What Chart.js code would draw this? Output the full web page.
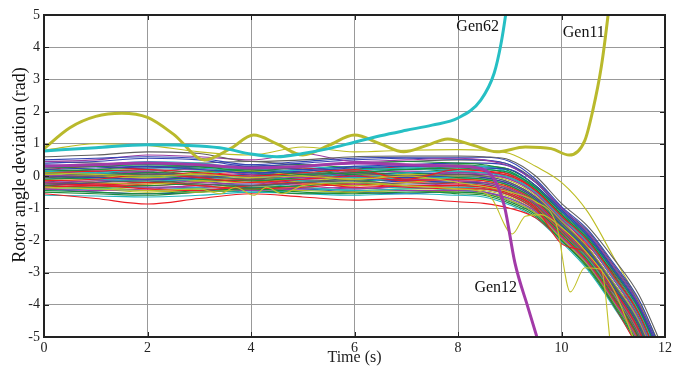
<!DOCTYPE html>
<html>
<head>
<meta charset="utf-8">
<script src="https://cdn.jsdelivr.net/npm/chart.js@4"></script>
<style>
  html, body { margin: 0; padding: 0; background: #fff; }
  #wrap { width: 675px; height: 367px; }
</style>
</head>
<body>
<div id="wrap"><canvas id="chart"></canvas></div>
<script>
// time samples shared by the bundle of generators
const T = [0, 1, 2, 3, 4, 5, 6, 7, 8, 8.5, 9, 9.5, 10, 10.5, 11, 11.5, 12];

const palette = { B: '#3343b3', G: '#1c8c3c', R: '#ec1c24', C: '#22b5bd', M: '#9c3ba3', Y: '#bcbc22', K: '#5f5f5f' };
// colour letter of each bundle line, in order
const bundleColors = 'KBBGRCMYKBGRCMYKBGRCMYGBGRCMYGRCMYKBGRCMRG' + 'BGRCMYKBGRCMYKBG';

// rotor angle of each generator (rad), read at T
const bundle = [
  [0.60, 0.65, 0.75, 0.70, 0.45, 0.50, 0.60, 0.62, 0.62, 0.60, 0.50, 0.00, -0.85, -1.55, -2.55, -3.70, -5.5],
  [0.50, 0.55, 0.60, 0.55, 0.35, 0.45, 0.55, 0.58, 0.58, 0.58, 0.45, -0.10, -0.95, -1.65, -2.70, -3.85, -5.7],
  [0.20, 0.25, 0.30, 0.20, 0.10, 0.15, 0.25, 0.30, 0.30, 0.25, 0.20, -0.30, -1.10, -1.85, -2.90, -4.05, -5.9],
  [0.10, 0.05, 0.10, 0.15, 0.20, 0.05, 0.10, 0.20, 0.25, 0.20, 0.10, -0.35, -1.15, -1.90, -2.95, -4.15, -6.0],
  [0.10, 0.15, 0.20, 0.10, 0.00, 0.10, 0.20, -0.10, 0.20, 0.15, 0.00, -0.45, -1.25, -2.00, -3.10, -4.30, -6.2],
  [0.30, 0.35, 0.45, 0.40, 0.25, 0.30, 0.20, 0.25, 0.30, 0.30, 0.10, -0.35, -1.10, -1.85, -2.95, -4.20, -6.1],
  [0.45, 0.50, 0.65, 0.60, 0.50, 0.70, 0.45, 0.50, 0.55, 0.50, 0.30, -0.20, -1.00, -1.75, -2.80, -4.00, -5.9],
  [0.80, 1.00, 0.95, 0.75, 0.65, 0.90, 0.75, 0.80, 0.82, 0.80, 0.70, 0.30, -0.20, -1.10, -2.50, -3.90, -5.6],
  [-0.05, 0.00, 0.05, 0.00, -0.10, 0.05, 0.10, 0.00, 0.05, 0.00, -0.20, -0.65, -1.45, -2.25, -3.35, -4.60, -6.6],
  [0.40, 0.45, 0.55, 0.50, 0.30, 0.40, 0.50, 0.55, 0.52, 0.50, 0.35, -0.20, -1.05, -1.80, -2.90, -4.10, -6.0],
  [0.25, 0.30, 0.35, 0.30, 0.15, 0.30, 0.40, 0.45, 0.40, 0.35, 0.15, -0.40, -1.20, -1.95, -3.05, -4.30, -6.2],
  [-0.15, -0.10, 0.05, -0.05, -0.20, -0.10, 0.00, -0.15, -0.10, -0.15, -0.35, -0.80, -1.60, -2.40, -3.50, -4.80, -6.9],
  [0.15, 0.10, 0.00, 0.05, 0.20, 0.15, -0.05, 0.10, 0.15, 0.10, -0.05, -0.50, -1.30, -2.05, -3.15, -4.35, -6.3],
  [0.00, 0.05, 0.15, 0.20, 0.05, -0.05, 0.10, 0.15, 0.10, 0.05, -0.10, -0.55, -1.35, -2.10, -3.20, -4.45, -6.4],
  [0.05, 0.00, -0.05, 0.10, 0.15, 0.00, -0.10, 0.05, 0.00, 0.00, -0.15, -0.60, -1.40, -2.20, -3.30, -4.50, -6.5],
  [-0.25, -0.20, -0.15, -0.25, -0.30, -0.20, -0.15, -0.25, -0.20, -0.25, -0.45, -0.90, -1.70, -2.50, -3.60, -4.95, -7.1],
  [0.00, -0.05, -0.10, -0.05, 0.05, 0.10, 0.00, -0.05, 0.00, -0.05, -0.25, -0.70, -1.50, -2.30, -3.40, -4.65, -6.7],
  [-0.10, -0.05, 0.00, -0.10, -0.15, -0.05, 0.05, 0.10, -0.05, -0.10, -0.30, -0.75, -1.55, -2.35, -3.45, -4.70, -6.8],
  [-0.35, -0.30, -0.40, -0.45, -0.30, -0.20, -0.35, -0.30, -0.30, -0.35, -0.55, -1.00, -2.10, -2.40, -3.60, -4.10, -7.0],
  [-0.05, -0.10, -0.15, -0.10, 0.00, -0.15, -0.20, -0.05, -0.05, -0.10, -0.30, -0.80, -1.55, -2.30, -3.30, -4.55, -6.5],
  [-0.20, -0.15, -0.10, -0.20, -0.25, -0.10, -0.05, -0.10, -0.15, -0.20, -0.40, -0.85, -1.65, -2.45, -3.55, -4.85, -7.0],
  [-0.10, -0.20, -0.25, -0.15, -0.05, -0.20, -0.30, -0.20, -0.10, -0.15, -0.40, -0.90, -1.70, -2.50, -3.60, -4.90, -7.0],
  [-0.45, -0.50, -0.55, -0.45, -0.40, -0.50, -0.55, -0.50, -0.50, -0.55, -0.80, -1.20, -2.00, -2.80, -3.95, -5.30, -7.4],
  [0.35, 0.30, 0.25, 0.30, 0.35, 0.20, 0.30, 0.35, 0.40, 0.40, 0.30, -0.20, -1.00, -1.75, -2.80, -3.95, -5.8],
  [-0.30, -0.35, -0.30, -0.25, -0.35, -0.30, -0.20, -0.30, -0.30, -0.35, -0.55, -1.00, -1.80, -2.60, -3.75, -5.05, -7.2],
  [-0.30, -0.25, -0.20, -0.30, -0.40, -0.35, -0.25, -0.35, -0.40, -0.40, -0.60, -1.05, -1.85, -2.65, -3.80, -5.10, -7.2],
  [-0.35, -0.40, -0.45, -0.35, -0.25, -0.35, -0.45, -0.40, -0.35, -0.40, -0.60, -1.05, -1.80, -2.55, -3.65, -4.95, -7.0],
  [-0.40, -0.45, -0.40, -0.35, -0.45, -0.40, -0.35, -0.45, -0.45, -0.50, -0.70, -1.10, -1.90, -2.70, -3.85, -5.20, -7.3],
  [-0.40, -0.35, -0.45, -0.50, -0.40, -0.45, -0.50, -0.45, -0.50, -0.55, -0.75, -1.15, -1.95, -2.75, -3.90, -5.25, -7.4],
  [0.30, 0.20, 0.15, 0.25, 0.30, 0.35, 0.25, 0.20, 0.30, 0.30, 0.20, -0.30, -1.05, -1.80, -2.85, -4.00, -5.85],
  [0.20, 0.30, 0.20, 0.05, 0.15, 0.25, 0.15, 0.30, 0.20, 0.15, 0.05, -0.45, -1.30, -2.15, -3.00, -4.25, -6.2],
  [0.05, 0.10, 0.20, 0.25, 0.10, 0.20, 0.30, 0.25, 0.20, 0.20, 0.10, -0.40, -1.20, -1.95, -3.00, -4.20, -6.1],
  [0.10, 0.00, -0.10, 0.00, 0.10, 0.20, 0.10, 0.00, 0.10, 0.10, -0.05, -0.50, -1.30, -2.05, -3.10, -4.35, -6.3],
  [-0.15, -0.10, -0.05, -0.15, -0.20, -0.05, 0.05, -0.05, -0.10, -0.10, -0.30, -0.75, -1.50, -2.30, -3.40, -4.70, -6.7],
  [-0.05, 0.05, 0.10, 0.05, -0.05, -0.15, -0.10, 0.00, 0.00, -0.05, -0.25, -0.70, -1.45, -2.25, -3.35, -4.60, -6.6],
  [-0.30, -0.20, -0.10, -0.15, -0.30, -0.20, -0.10, -0.15, -0.20, -0.20, -0.40, -0.85, -1.60, -2.40, -3.50, -4.80, -6.9],
  [-0.50, -0.55, -0.60, -0.50, -0.45, -0.55, -0.50, -0.45, -0.55, -0.60, -0.85, -1.25, -2.00, -2.85, -4.00, -5.35, -7.5],
  [-0.20, -0.25, -0.30, -0.20, -0.10, -0.25, -0.30, -0.20, -0.25, -0.30, -0.50, -0.95, -1.75, -2.55, -3.70, -5.00, -7.1],
  [0.25, 0.30, 0.35, 0.30, 0.20, 0.25, 0.15, 0.20, 0.25, 0.25, 0.15, -0.35, -1.10, -1.85, -2.90, -4.10, -6.0],
  [-0.25, -0.30, -0.35, -0.30, -0.20, -0.30, -0.40, -0.30, -0.25, -0.30, -0.50, -0.95, -1.75, -2.55, -3.70, -5.00, -7.1],
  [-0.55, -0.70, -0.87, -0.70, -0.55, -0.65, -0.75, -0.70, -0.80, -0.85, -1.00, -1.30, -2.00, -2.80, -4.00, -5.40, -7.0],
  [0.15, 0.20, 0.25, 0.30, 0.25, 0.10, 0.20, 0.30, 0.35, 0.30, 0.20, -0.30, -1.10, -1.85, -2.90, -4.10, -6.0],
  [-0.10, 0.00, 0.10, 0.05, -0.05, -0.10, 0.00, 0.10, 0.05, 0.00, -0.20, -0.65, -1.40, -2.20, -3.30, -4.55, -6.5],
  [0.00, -0.10, -0.20, -0.10, 0.05, 0.00, -0.15, -0.10, -0.05, -0.10, -0.30, -0.75, -1.50, -2.30, -3.40, -4.70, -6.7],
  [-0.20, -0.30, -0.25, -0.10, -0.15, -0.25, -0.20, -0.10, -0.15, -0.20, -0.40, -0.85, -1.65, -2.45, -3.55, -4.85, -7.0],
  [-0.45, -0.40, -0.35, -0.40, -0.50, -0.45, -0.40, -0.35, -0.45, -0.50, -0.70, -1.10, -1.90, -2.70, -3.85, -5.20, -7.3],
  [0.05, 0.15, 0.10, -0.05, 0.00, 0.10, 0.05, -0.05, 0.05, 0.05, -0.10, -0.55, -1.35, -2.10, -3.20, -4.45, -6.4],
  [-0.30, -0.40, -0.50, -0.40, -0.30, -0.35, -0.45, -0.40, -0.40, -0.45, -0.65, -1.10, -1.85, -2.65, -3.80, -5.15, -7.3],
  [0.10, 0.20, 0.30, 0.25, 0.10, 0.00, 0.15, 0.25, 0.15, 0.10, 0.00, -0.45, -1.25, -2.00, -3.10, -4.30, -6.2],
  [-0.15, -0.25, -0.20, -0.05, -0.10, -0.20, -0.25, -0.15, -0.20, -0.25, -0.45, -0.90, -1.70, -2.50, -3.60, -4.90, -7.0],
  [0.20, 0.15, 0.05, 0.10, 0.25, 0.20, 0.05, 0.10, 0.20, 0.20, 0.05, -0.40, -1.20, -1.95, -3.00, -4.20, -6.1],
  [-0.35, -0.30, -0.20, -0.30, -0.40, -0.30, -0.20, -0.30, -0.35, -0.40, -0.60, -1.05, -1.85, -2.65, -3.80, -5.10, -7.2],
  [-0.60, -0.62, -0.65, -0.60, -0.50, -0.55, -0.60, -0.55, -0.60, -0.65, -0.90, -1.30, -2.05, -2.90, -4.05, -5.40, -7.5],
  [0.00, 0.05, -0.05, -0.15, -0.10, 0.00, 0.05, -0.05, -0.10, -0.10, -0.30, -0.75, -1.55, -2.35, -3.45, -4.75, -6.8],
  [-0.25, -0.15, -0.05, -0.10, -0.20, -0.15, -0.05, 0.00, -0.10, -0.15, -0.35, -0.80, -1.60, -2.40, -3.50, -4.80, -6.9],
  [0.45, 0.40, 0.35, 0.40, 0.45, 0.35, 0.40, 0.45, 0.50, 0.48, 0.35, -0.15, -1.00, -1.70, -2.75, -3.90, -5.7],
  [-0.40, -0.50, -0.55, -0.50, -0.35, -0.40, -0.50, -0.55, -0.45, -0.50, -0.75, -1.15, -1.95, -2.75, -3.90, -5.25, -7.4],
  [0.15, 0.05, 0.00, 0.10, 0.20, 0.25, 0.15, 0.05, 0.10, 0.10, -0.05, -0.50, -1.30, -2.05, -3.15, -4.40, -6.3]
];

// yellow machines with local swings
const swingAT = [0, 1, 2, 3, 3.4, 3.7, 4.05, 4.3, 4.6, 5, 6, 7, 8, 8.6, 9.05, 9.3, 9.6, 10, 10.5, 11, 11.5];
const swingAV = [-0.35, -0.4, -0.45, -0.4, -0.55, -0.35, -0.6, -0.35, -0.55, -0.3, -0.2, -0.3, -0.4, -0.6, -1.8, -1.25, -1.2, -1.6, -2.4, -3.5, -5.5];
const swingBT = [0, 1, 2, 3, 4, 5, 6, 7, 8, 9, 9.5, 9.9, 10.17, 10.45, 10.77, 10.95];
const swingBV = [0.1, 0.05, 0.0, 0.05, -0.05, 0.0, -0.1, 0.0, -0.2, -0.5, -0.8, -1.5, -3.6, -2.85, -2.9, -5.3];

// the three marked generators
const gen62T = [0, 1, 2, 3, 3.5, 4, 4.5, 5, 5.5, 6, 6.5, 7, 7.5, 8, 8.44, 8.7, 8.83, 8.92, 9.0];
const gen62V = [0.78, 0.88, 0.97, 0.93, 0.85, 0.68, 0.6, 0.7, 0.85, 1.05, 1.25, 1.42, 1.58, 1.8, 2.36, 3.2, 4.1, 5.0, 6.0];
const gen11T = [0, 0.5, 1, 1.5, 2, 2.5, 3.1, 3.6, 4.05, 4.5, 5, 5.5, 6, 6.5, 6.95, 7.4, 7.8, 8.3, 8.75, 9.3, 9.8, 10.15, 10.45, 10.6, 10.77, 10.9, 11.0];
const gen11V = [0.85, 1.5, 1.85, 1.95, 1.82, 1.3, 0.5, 0.85, 1.27, 1.0, 0.65, 0.95, 1.27, 1.0, 0.75, 0.95, 1.15, 0.95, 0.75, 0.9, 0.85, 0.65, 1.1, 2.0, 3.4, 5.0, 6.5];
const gen12T = [0, 1, 2, 3, 4, 5, 6, 7, 8, 8.5, 8.7, 8.9, 9.1, 9.35, 9.6];
const gen12V = [0.3, 0.35, 0.4, 0.35, 0.25, 0.3, 0.4, 0.35, 0.3, 0.2, -0.1, -0.96, -2.7, -4.07, -5.4];

const xTicks = [0, 2, 4, 6, 8, 10, 12];
const yTicks = [5, 4, 3, 2, 1, 0, -1, -2, -3, -4, -5];

// label text and where it sits (t, rad)
const genLabels = [
  { text: 'Gen62', x: 8.38, y: 4.63 },
  { text: 'Gen11', x: 10.43, y: 4.44 },
  { text: 'Gen12', x: 8.73, y: -3.48 }
];

const serif = '"Liberation Serif", "DejaVu Serif", serif';

function pts(ts, vs) {
  return ts.map((t, i) => ({ x: t, y: vs[i] }));
}

function line(ts, vs, color, width) {
  return {
    data: pts(ts, vs),
    borderColor: color,
    borderWidth: width,
    pointRadius: 0,
    cubicInterpolationMode: 'monotone',
    fill: false,
    clip: 0
  };
}

const datasets = [];
// thick ones first so they end up on top
datasets.push(line(gen62T, gen62V, '#26bfc4', 3));
datasets.push(line(gen11T, gen11V, '#b9b92c', 3));
datasets.push(line(gen12T, gen12V, '#a23aa8', 3));
datasets.push(line(swingAT, swingAV, '#c2c22a', 1.1));
datasets.push(line(swingBT, swingBV, '#c2c22a', 1.1));
bundle.forEach((vals, i) => {
  datasets.push(line(T, vals, palette[bundleColors[i]], 1.1));
});

// box, inward ticks, y title and generator names
const framePlugin = {
  id: 'frame',
  afterDraw(chart) {
    const { ctx, chartArea: a, scales } = chart;
    const xs = scales.x, ys = scales.y;
    ctx.save();
    ctx.strokeStyle = '#222';
    ctx.lineWidth = 1;
    xTicks.forEach(v => {
      const px = Math.round(xs.getPixelForValue(v)) + 0.5;
      ctx.beginPath();
      ctx.moveTo(px, a.top); ctx.lineTo(px, a.top + 5);
      ctx.moveTo(px, a.bottom); ctx.lineTo(px, a.bottom - 5);
      ctx.stroke();
    });
    yTicks.forEach(v => {
      const py = Math.round(ys.getPixelForValue(v)) + 0.5;
      ctx.beginPath();
      ctx.moveTo(a.right, py); ctx.lineTo(a.right - 5, py);
      ctx.moveTo(a.left, py); ctx.lineTo(a.left + 5, py);
      ctx.stroke();
    });
    ctx.lineWidth = 2;
    ctx.strokeRect(a.left, a.top, a.right - a.left, a.bottom - a.top);

    ctx.fillStyle = '#111';
    ctx.textAlign = 'center';
    ctx.textBaseline = 'middle';
    ctx.font = '16px ' + serif;
    genLabels.forEach(l => {
      ctx.fillText(l.text, xs.getPixelForValue(l.x), ys.getPixelForValue(l.y));
    });

    ctx.translate(20, 165);
    ctx.rotate(-Math.PI / 2);
    ctx.font = '18px ' + serif;
    ctx.fillText('Rotor angle deviation (rad)', 0, 0);
    ctx.restore();
  }
};

new Chart(document.getElementById('chart').getContext('2d'), {
  type: 'line',
  data: { datasets: datasets },
  options: {
    responsive: true,
    maintainAspectRatio: false,
    animation: false,
    events: [],
    layout: { padding: { top: 15, right: 10, left: 0, bottom: 0 } },
    plugins: { legend: { display: false }, tooltip: { enabled: false } },
    scales: {
      x: {
        type: 'linear',
        min: 0,
        max: 12,
        afterBuildTicks: s => { s.ticks = xTicks.map(v => ({ value: v })); },
        afterFit: s => { s.height = 30; },
        ticks: { color: '#222', font: { family: serif, size: 14 }, padding: 3, maxRotation: 0 },
        grid: { color: '#999', lineWidth: 1, drawTicks: false },
        border: { display: false },
        title: { display: true, text: 'Time (s)', color: '#222', font: { family: serif, size: 16 }, padding: { top: 0, bottom: 0 } }
      },
      y: {
        min: -5,
        max: 5,
        afterBuildTicks: s => { s.ticks = yTicks.map(v => ({ value: v })); },
        afterFit: s => { s.width = 44; },
        ticks: { color: '#222', font: { family: serif, size: 14 }, padding: 4 },
        grid: { color: '#999', lineWidth: 1, drawTicks: false },
        border: { display: false }
      }
    }
  },
  plugins: [framePlugin]
});
</script>
</body>
</html>
